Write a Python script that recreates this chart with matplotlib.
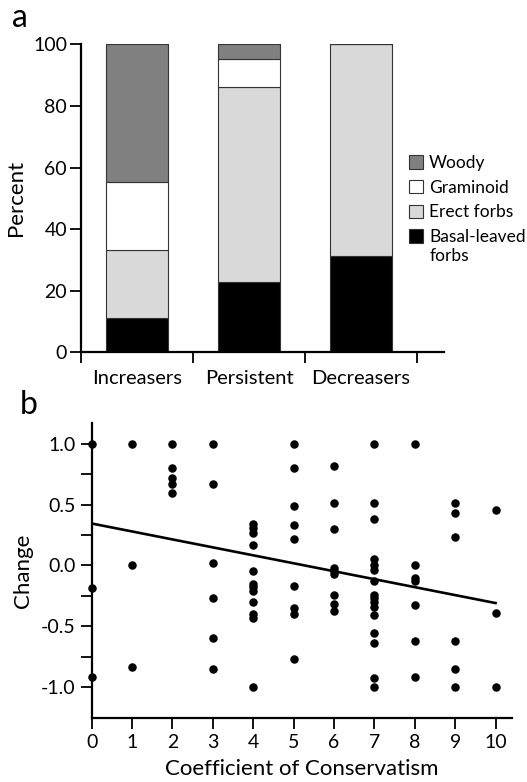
import matplotlib
matplotlib.use("Agg")
import matplotlib.pyplot as plt
import numpy as np
from matplotlib.patches import Patch

plt.rcParams['font.family'] = ['Lato', 'DejaVu Sans']

# panel a: percent of species in each growth form
groups = ['Increasers', 'Persistent', 'Decreasers']
basal = [11.0, 22.9, 31.4]
erect = [22.3, 63.1, 68.6]
graminoid = [22.1, 9.2, 0.0]
woody = [44.6, 4.8, 0.0]

# panel b: change vs coefficient of conservatism
cc_vals = {
    0: [1.0, -0.19, -0.92],
    1: [1.0, 0.0, -0.84],
    2: [1.0, 0.8, 0.72, 0.67, 0.6],
    3: [1.0, 0.67, 0.02, -0.27, -0.595, -0.85],
    4: [0.34, 0.31, 0.27, 0.17, -0.05, -0.155, -0.18, -0.21, -0.30, -0.40, -0.43, -1.0],
    5: [1.0, 0.8, 0.49, 0.33, 0.22, -0.17, -0.35, -0.40, -0.77],
    6: [0.82, 0.51, 0.30, -0.02, -0.05, -0.07, -0.24, -0.32, -0.375],
    7: [1.0, 0.51, 0.385, 0.05, 0.0, -0.04, -0.13, -0.24, -0.27, -0.30, -0.34, -0.41, -0.56, -0.64, -0.93, -1.0],
    8: [1.0, 0.0, -0.10, -0.13, -0.33, -0.62, -0.92],
    9: [0.51, 0.43, 0.23, -0.62, -0.85, -1.0],
    10: [0.46, -0.39, -1.0],
}
fit_intercept = 0.345
fit_slope = -0.0655

fig = plt.figure(figsize=(5.27, 7.82), dpi=100)

# ---- panel a
ax1 = fig.add_axes([0.1537, 0.5495, 0.6888, 0.3938])
x = np.arange(len(groups))
w = 0.555
ec = '#333333'
ax1.bar(x, basal, w, color='black', edgecolor=ec, linewidth=0.8)
ax1.bar(x, erect, w, bottom=basal, color='#d9d9d9', edgecolor=ec, linewidth=0.8)
bot3 = np.array(basal) + np.array(erect)
ax1.bar(x, graminoid, w, bottom=bot3, color='white', edgecolor=ec, linewidth=0.8)
bot4 = bot3 + np.array(graminoid)
ax1.bar(x, woody, w, bottom=bot4, color='#808080', edgecolor=ec, linewidth=0.8)

ax1.set_xlim(-0.5, 2.74)
ax1.set_ylim(0, 100)
ax1.set_yticks([0, 20, 40, 60, 80, 100])
ax1.set_xticks([-0.5, 0.5, 1.5, 2.5])
ax1.set_xticklabels([])
ax1.set_xticks(x, minor=True)
ax1.set_xticklabels(groups, minor=True)
ax1.tick_params(axis='x', which='major', length=8, width=1.3, direction='out')
ax1.tick_params(axis='x', which='minor', length=0, pad=13, labelsize=14.5)
ax1.tick_params(axis='y', length=8, width=1.3, labelsize=14, pad=2)
for s in ['top', 'right']:
    ax1.spines[s].set_visible(False)
for s in ['left', 'bottom']:
    ax1.spines[s].set_linewidth(1.6)
ax1.set_ylabel('Percent', fontsize=16, labelpad=5)

handles = [Patch(facecolor='#808080', edgecolor=ec, linewidth=0.8),
           Patch(facecolor='white', edgecolor=ec, linewidth=0.8),
           Patch(facecolor='#d9d9d9', edgecolor=ec, linewidth=0.8),
           Patch(facecolor='black', edgecolor=ec, linewidth=0.8)]
labels = ['Woody', 'Graminoid', 'Erect forbs', 'Basal-leaved']
leg = fig.legend(handles, labels, loc='upper left', bbox_to_anchor=(409 / 527, 1 - 155 / 782),
                 frameon=False, fontsize=12.5, handlelength=0.8, handleheight=0.8,
                 handletextpad=0.35, labelspacing=0.5, borderpad=0, borderaxespad=0)
# second line of the last legend label
fig.text(430 / 527, 1 - 256 / 782, 'forbs', fontsize=12.5, va='center', ha='left')

fig.text(12 / 527, 1 - 18 / 782, 'a', fontsize=23, va='center', ha='left')

# ---- panel b
ax2 = fig.add_axes([0.174, 0.0822, 0.797, 0.3765])
xs = []
ys = []
for k, vals in cc_vals.items():
    xs += [k] * len(vals)
    ys += vals
ax2.scatter(xs, ys, s=26, color='black', zorder=3, clip_on=False)
xl = np.array([0, 10])
ax2.plot(xl, fit_intercept + fit_slope * xl, color='black', linewidth=1.9)

ax2.set_xlim(0, 10.4)
ax2.set_ylim(-1.254, 1.17)
ax2.set_xticks(range(11))
ax2.set_yticks([-1.0, -0.5, 0.0, 0.5, 1.0])
ax2.set_yticklabels(['-1.0', '-0.5', '0.0', '0.5', '1.0'])
ax2.set_yticks([-0.75, -0.25, 0.25, 0.75], minor=True)
ax2.tick_params(axis='both', which='major', length=8, width=1.3, labelsize=14)
ax2.tick_params(axis='y', which='minor', length=8, width=1.3)
for s in ['top', 'right']:
    ax2.spines[s].set_visible(False)
for s in ['left', 'bottom']:
    ax2.spines[s].set_linewidth(1.6)
ax2.set_ylabel('Change', fontsize=16, labelpad=6)
ax2.set_xlabel('Coefficient of Conservatism', fontsize=16, labelpad=6)

fig.text(20 / 527, 1 - 405 / 782, 'b', fontsize=23, va='center', ha='left')

fig.savefig('out.png', dpi=100)
